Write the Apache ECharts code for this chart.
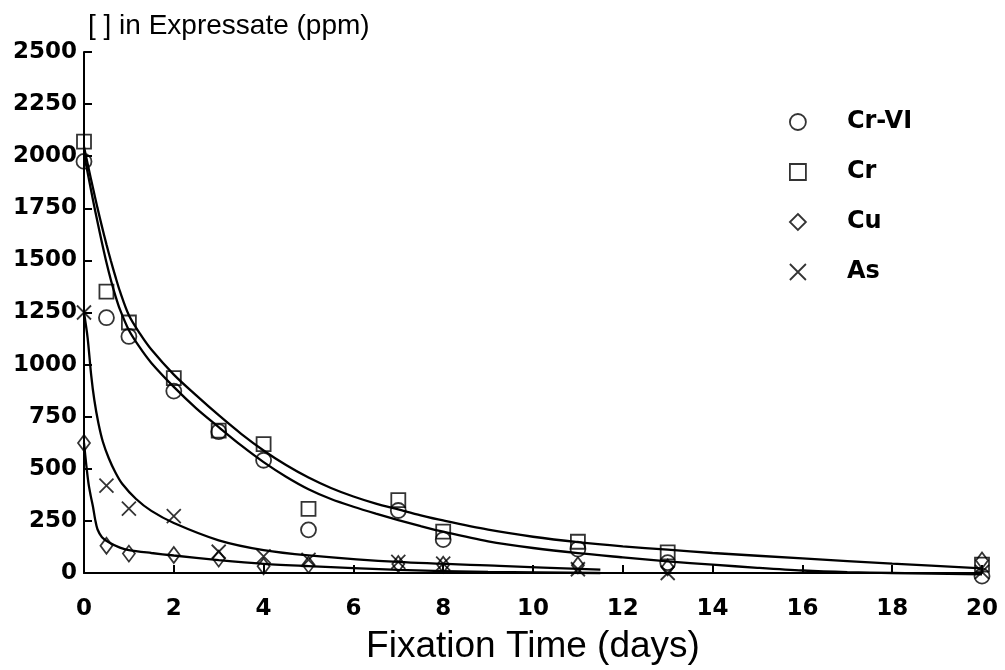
<!DOCTYPE html>
<html><head><meta charset="utf-8">
<script src="https://cdn.jsdelivr.net/npm/echarts@6/dist/echarts.min.js"></script>
<style>html,body{margin:0;padding:0;background:#fff}#c{width:1005px;height:670px}</style>
</head><body><div id="c"></div>
<script>
// ---- data ----
const seriesNames = ['Cr-VI', 'Cr', 'Cu', 'As'];
const xTickLabels = ['0','2','4','6','8','10','12','14','16','18','20'];
const yTickLabels = ['0','250','500','750','1000','1250','1500','1750','2000','2250','2500'];

// measured points [day, ppm]
const crVIPoints = [[0,1975],[0.5,1225],[1,1135],[2,873],[3,678],[4,541],[5,207],[7,300],[8,160],[11,115],[13,50],[20,-15]];
const crPoints   = [[0,2070],[0.5,1350],[1,1202],[2,935],[3,683],[4,618],[5,308],[7,350],[8,199],[11,150],[13,99],[20,40]];
const cuPoints   = [[0,624],[0.5,131],[1,93],[2,86],[3,69],[4,32],[5,39],[7,43],[8,40],[11,37],[13,27],[20,60]];
const asPoints   = [[0,1250],[0.5,419],[1,309],[2,273],[3,102],[4,80],[5,63],[7,53],[8,45],[11,18],[13,0],[20,5]];

// fitted curves [day, ppm]
const crVICurve = [[0,2010],[0.1,1900],[0.2,1790],[0.3,1685],[0.4,1585],[0.5,1490],[0.6,1405],[0.7,1330],[0.8,1265],[1,1165],[1.25,1080],[1.5,1008],[2,893],[2.5,790],[3,700],[3.5,612],[4,532],[4.5,462],[5,402],[5.5,355],[6,318],[6.5,285],[7,254],[7.5,225],[8,198],[9,152],[10,120],[11,95],[12,75],[13,56],[14,40],[15,25],[16,12],[17,4],[18,0],[20,-7]];
const crCurve   = [[0,2045],[0.1,1945],[0.2,1847],[0.3,1752],[0.4,1662],[0.5,1577],[0.6,1497],[0.7,1422],[0.8,1352],[1,1237],[1.25,1147],[1.5,1072],[2,952],[2.5,852],[3,757],[3.5,668],[4,588],[4.5,518],[5,458],[5.5,408],[6,367],[6.5,333],[7,305],[7.5,277],[8,252],[9,208],[10,174],[11,148],[12,128],[13,112],[14,96],[16,70],[18,45],[20,22]];
const cuCurve   = [[0,624],[0.05,520],[0.1,430],[0.15,370],[0.2,318],[0.25,255],[0.3,210],[0.4,172],[0.57,145],[0.8,122],[1,110],[1.5,96],[2,84],[3,62],[4,44],[5,33],[7,15],[9,5],[11.5,0]];
const asCurve   = [[0,1250],[0.08,1130],[0.16,950],[0.23,830],[0.32,720],[0.42,630],[0.55,552],[0.7,482],[0.85,428],[1.16,355],[1.5,298],[2,240],[3,157],[4,110],[5,85],[7,53],[9.25,34],[11.5,16]];

const ink = '#000';
const tickFont = 'DejaVu Sans';

const chart = echarts.init(document.getElementById('c'), null, {renderer: 'canvas'});

function scatter(name, data, symbol, size) {
  return {
    name, type: 'scatter', data, symbol, symbolSize: size, clip: false,
    itemStyle: {color: 'rgba(255,255,255,0)', borderColor: ink, borderWidth: 1.8},
    emphasis: {disabled: true}, z: 3
  };
}
function curve(data) {
  return {
    type: 'line', data, smooth: 0.3, showSymbol: false, symbol: 'none',
    lineStyle: {color: ink, width: 2.3}, emphasis: {disabled: true}, z: 2, clip: false
  };
}
const xPath = 'path://M0,0L10,10M10,0L0,10';

chart.setOption({
  animation: false,
  backgroundColor: '#fff',
  title: {
    text: '[ ] in Expressate (ppm)', left: 88, top: 12, padding: 0,
    textStyle: {fontFamily: 'Liberation Sans', fontSize: 28, fontWeight: 'normal', color: ink}
  },
  grid: {left: 84, right: 23, top: 52, bottom: 97, containLabel: false},
  legend: {
    data: seriesNames, orient: 'vertical', left: 789, top: 110, padding: 0,
    itemWidth: 16, itemHeight: 16, itemGap: 26,
    itemStyle: {color: 'rgba(255,255,255,0)', borderColor: ink, borderWidth: 1.8},
    textStyle: {fontFamily: tickFont, fontWeight: 'bold', fontSize: 24, color: ink, padding: [0,0,0,36]},
    selectedMode: false
  },
  xAxis: {
    type: 'value', min: 0, max: 20, interval: 2,
    name: 'Fixation Time (days)', nameLocation: 'middle', nameGap: 55,
    nameTextStyle: {fontFamily: 'Liberation Sans', fontSize: 37, color: ink},
    axisLine: {show: true, lineStyle: {color: ink, width: 2}},
    axisTick: {show: true, inside: true, length: 8, lineStyle: {color: ink, width: 2}},
    axisLabel: {margin: 25, fontFamily: tickFont, fontWeight: 'bold', fontSize: 23, color: ink,
      formatter: (v) => xTickLabels[Math.round(v / 2)]},
    splitLine: {show: false}
  },
  yAxis: {
    type: 'value', min: 0, max: 2500, interval: 250,
    axisLine: {show: true, lineStyle: {color: ink, width: 2}},
    axisTick: {show: true, inside: true, length: 8, lineStyle: {color: ink, width: 2}},
    axisLabel: {margin: 7, fontFamily: tickFont, fontWeight: 'bold', fontSize: 23, color: ink,
      formatter: (v) => yTickLabels[Math.round(v / 250)]},
    splitLine: {show: false}
  },
  series: [
    scatter('Cr-VI', crVIPoints, 'circle', 15),
    scatter('Cr', crPoints, 'rect', 14),
    scatter('Cu', cuPoints, 'diamond', [12, 16]),
    scatter('As', asPoints, xPath, 14),
    curve(crVICurve), curve(crCurve), curve(cuCurve), curve(asCurve)
  ]
});
</script></body></html>
